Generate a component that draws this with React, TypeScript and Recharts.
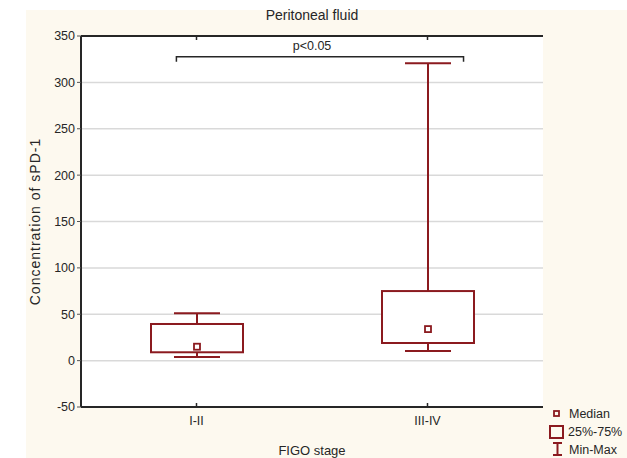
import React from "react";
import {
  Bar,
  CartesianGrid,
  ComposedChart,
  ReferenceLine,
  XAxis,
  YAxis,
} from "recharts";

// FIGO stage groups and their box-plot stats (sPD-1 concentration)
const categories = ["I-II", "III-IV"];
const minVals = [4, 10.5];
const q1Vals = [9, 19];
const medianVals = [15, 34];
const q3Vals = [39.5, 75];
const maxVals = [51, 320.5];

const yTicks = [-50, 0, 50, 100, 150, 200, 250, 300, 350];

// significance bracket height
const bracketY = 327.5;

const RED = "#8B1A1F";
const INK = "#262626";
const FONT = "'Liberation Sans', Arial, sans-serif";

const data = categories.map((name, i) => ({
  name,
  min: minVals[i],
  q1: q1Vals[i],
  median: medianVals[i],
  q3: q3Vals[i],
  max: maxVals[i],
}));

function BoxShape(props: any) {
  const { x, y, width, height, payload } = props;
  const top = Math.min(y, y + height);
  const bottom = Math.max(y, y + height);
  const { min, max, q1, q3, median } = payload;
  const py = (v: number) => bottom - ((v - min) / (max - min)) * (bottom - top);
  const cx = x + width / 2;
  const cap = width / 4;
  const m = py(median);
  return (
    <g stroke={RED} strokeWidth={2} fill="none">
      <line x1={cx} x2={cx} y1={py(max)} y2={py(q3)} />
      <line x1={cx} x2={cx} y1={py(q1)} y2={py(min)} />
      <line x1={cx - cap} x2={cx + cap} y1={py(max)} y2={py(max)} />
      <line x1={cx - cap} x2={cx + cap} y1={py(min)} y2={py(min)} />
      <rect x={x} y={py(q3)} width={width} height={py(q1) - py(q3)} fill="#fff" />
      <rect x={cx - 3} y={m - 3} width={6} height={6} fill="#fff" strokeWidth={1.8} />
    </g>
  );
}

// bracket spanning slightly past the two group centres, with short drops
function Bracket(props: any) {
  const { x1, x2, y1 } = props;
  const span = x2 - x1;
  const l = x1 - span * 0.087;
  const r = x2 + span * 0.156;
  return (
    <path
      d={`M${l},${y1 + 5}V${y1}H${r}V${y1 + 5}`}
      stroke={INK}
      strokeWidth={1.5}
      fill="none"
    />
  );
}

function LegendBox() {
  return (
    <svg
      width={80}
      height={52}
      style={{ position: "absolute", left: 545, top: 404 }}
      fontFamily={FONT}
      fontSize={12.5}
    >
      <g stroke={RED} strokeWidth={2} fill="none">
        <rect x={9} y={7} width={5} height={5} strokeWidth={1.8} />
        <rect x={5} y={22} width={13} height={12} />
        <line x1={8} x2={17} y1={39} y2={39} />
        <line x1={12.5} x2={12.5} y1={39} y2={51} />
        <line x1={8} x2={17} y1={51} y2={51} />
      </g>
      <text x={24} y={14} fill={INK}>Median</text>
      <text x={23} y={32} fill={INK}>25%-75%</text>
      <text x={24} y={50} fill={INK}>Min-Max</text>
    </svg>
  );
}

export default function App() {
  return (
    <div
      style={{
        position: "absolute",
        left: 0,
        top: 0,
        width: 627,
        height: 458,
        background: "#fff",
        fontFamily: FONT,
      }}
    >
      <div
        style={{
          position: "absolute",
          left: 26,
          top: 10,
          width: 601,
          height: 448,
          background: "#fdf9ef",
        }}
      />
      <div style={{ position: "absolute", left: 0, top: 0 }}>
        <ComposedChart
          width={627}
          height={458}
          data={data}
          margin={{ top: 0, right: 84, left: 0, bottom: 0 }}
          style={{ fontFamily: FONT }}
        >
          <CartesianGrid vertical={false} stroke="#d9d9d9" fill="#fff" strokeWidth={1.5} />
          <XAxis
            dataKey="name"
            height={51}
            tickSize={-4}
            tickMargin={13}
            axisLine={{ stroke: INK, strokeWidth: 2 }}
            tickLine={{ stroke: INK, strokeWidth: 1.5 }}
            tick={{ fill: INK, fontSize: 12.5 }}
            label={{
              value: "FIGO stage",
              position: "insideBottom",
              offset: 3,
              fill: INK,
              fontSize: 13,
            }}
          />
          <XAxis
            xAxisId="top"
            dataKey="name"
            orientation="top"
            height={36}
            tickSize={-4}
            tickFormatter={() => ""}
            axisLine={{ stroke: INK, strokeWidth: 2 }}
            tickLine={{ stroke: INK, strokeWidth: 1.5 }}
            label={{
              value: "Peritoneal fluid",
              position: "insideTop",
              offset: 10,
              fill: INK,
              fontSize: 14,
            }}
          />
          <YAxis
            width={81}
            domain={[-50, 350]}
            ticks={yTicks}
            interval={0}
            tickSize={4}
            axisLine={{ stroke: INK, strokeWidth: 2 }}
            tickLine={{ stroke: "#555", strokeWidth: 1 }}
            tick={{ fill: INK, fontSize: 12.5 }}
            label={{
              value: "Concentration of sPD-1",
              angle: -90,
              position: "insideLeft",
              offset: 35,
              fill: INK,
              fontSize: 14,
              style: { textAnchor: "middle", letterSpacing: 1 },
            }}
          />
          <YAxis
            yAxisId="right"
            orientation="right"
            width={0}
            domain={[-50, 350]}
            tick={false}
            axisLine={{ stroke: INK, strokeWidth: 2 }}
          />
          <Bar
            dataKey={(d: any) => [d.min, d.max]}
            barSize={92}
            shape={BoxShape}
            isAnimationActive={false}
          />
          <ReferenceLine
            segment={[
              { x: categories[0], y: bracketY },
              { x: categories[1], y: bracketY },
            ]}
            shape={Bracket}
            label={{ value: "p<0.05", position: "top", offset: 7, fill: INK, fontSize: 12.5 }}
          />
        </ComposedChart>
      </div>
      <LegendBox />
    </div>
  );
}
